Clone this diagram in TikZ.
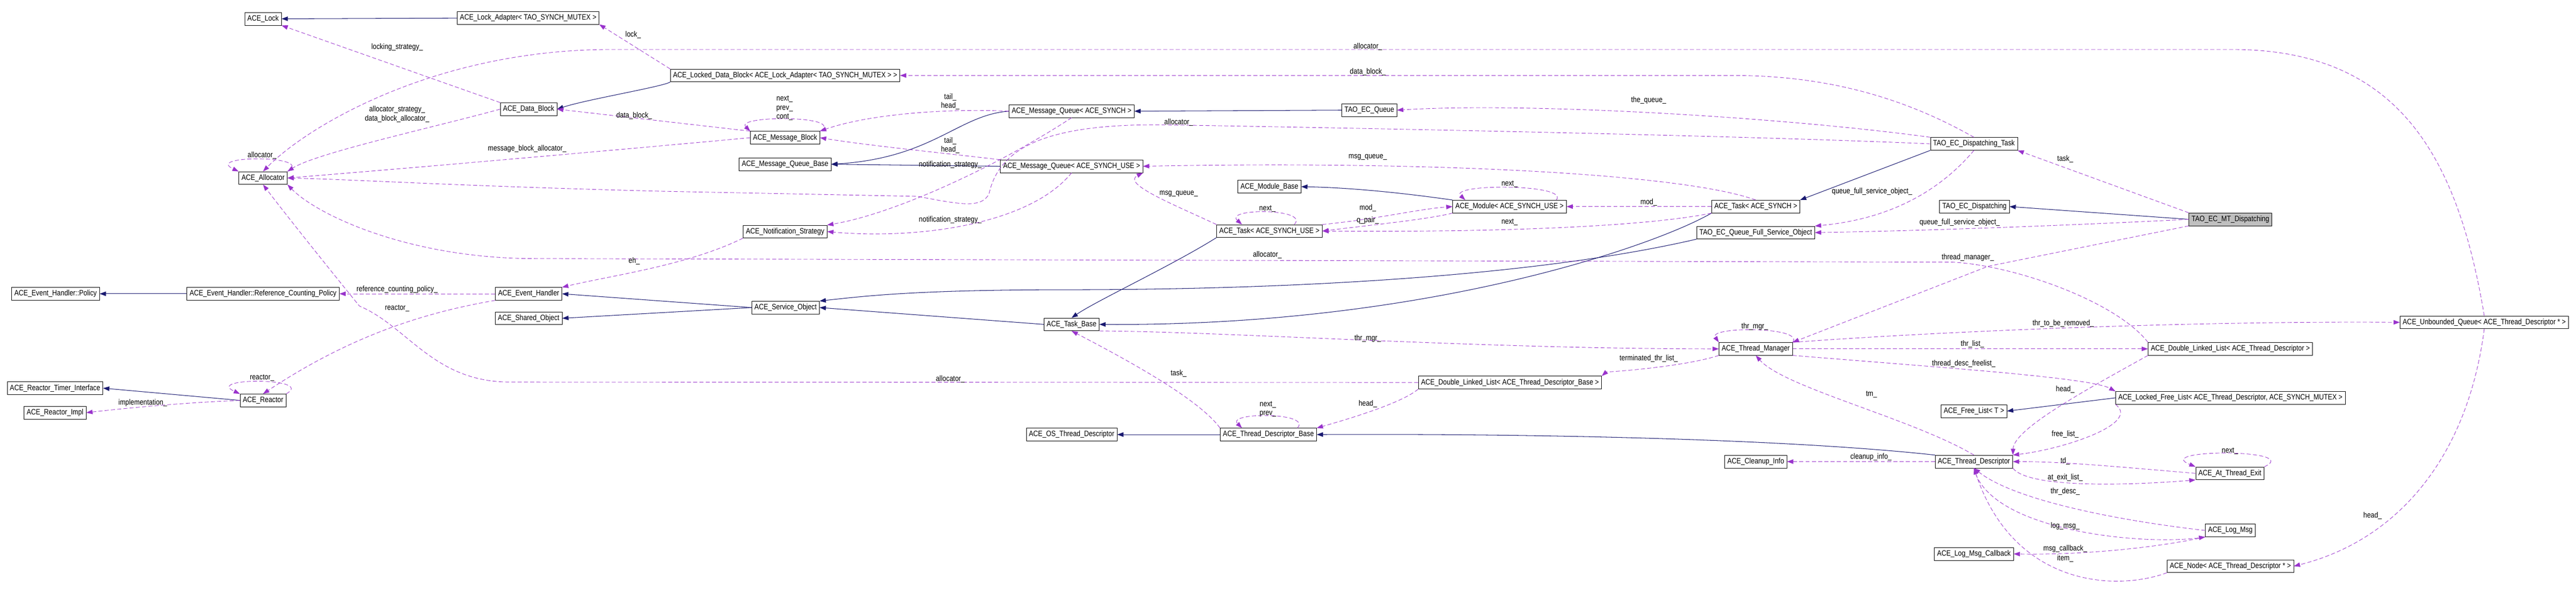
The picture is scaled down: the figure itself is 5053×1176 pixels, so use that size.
\documentclass[tikz,border=0pt]{standalone}
\usepackage{fontspec}
\usetikzlibrary{arrows.meta}
\newfontfamily\dxfont{Liberation Sans}[FakeStretch=0.85]
\newcommand{\dxsize}{\dxfont\fontsize{8.7pt}{10pt}\selectfont}
\definecolor{inhblue}{rgb}{0.1,0.1,0.44}
\definecolor{usepurple}{rgb}{0.6,0.2,0.8}

\begin{document}
\begin{tikzpicture}
  [x=0.02cm,y=-0.02cm,
   cls/.style={draw,rectangle,fill=white,minimum height=0.5cm,inner xsep=3pt,inner ysep=0pt,font=\dxsize},
   lbl/.style={inner sep=1pt,font=\dxsize,align=center},
   inh/.style={draw=inhblue,line width=0.6pt,-{Triangle[length=7pt,width=5pt]}},
   use/.style={draw=usepurple,line width=0.5pt,dash pattern=on 4.5pt off 2.5pt,-{Triangle[length=7pt,width=5pt]}}]

  \useasboundingbox (0,0) rectangle (5053,1176);

  \node[cls] (lock) at (516,37) {ACE\_Lock};
  \node[cls] (lockad) at (1036,35) {ACE\_Lock\_Adapter< TAO\_SYNCH\_MUTEX >};
  \node[cls] (datablk) at (1037,214) {ACE\_Data\_Block};
  \node[cls] (alloc) at (516,349) {ACE\_Allocator};
  \node[cls] (policy) at (109,576) {ACE\_Event\_Handler::Policy};
  \node[cls] (refpol) at (516,576) {ACE\_Event\_Handler::Reference\_Counting\_Policy};
  \node[cls] (evh) at (1037,576) {ACE\_Event\_Handler};
  \node[cls] (sharedobj) at (1037,624) {ACE\_Shared\_Object};
  \node[cls] (reactor) at (516,785) {ACE\_Reactor};
  \node[cls] (timerif) at (108,761) {ACE\_Reactor\_Timer\_Interface};
  \node[cls] (reactimpl) at (108,809) {ACE\_Reactor\_Impl};
  \node[cls] (lockeddb) at (1540,148) {ACE\_Locked\_Data\_Block< ACE\_Lock\_Adapter< TAO\_SYNCH\_MUTEX > >};
  \node[cls] (msgblk) at (1540,270) {ACE\_Message\_Block};
  \node[cls] (mqbase) at (1540,322) {ACE\_Message\_Queue\_Base};
  \node[cls] (notif) at (1540,454) {ACE\_Notification\_Strategy};
  \node[cls] (svcobj) at (1541,603) {ACE\_Service\_Object};
  \node[cls] (mqsynch) at (2102,218) {ACE\_Message\_Queue< ACE\_SYNCH >};
  \node[cls] (mquse) at (2102,326) {ACE\_Message\_Queue< ACE\_SYNCH\_USE >};
  \node[cls] (taskbase) at (2102,636) {ACE\_Task\_Base};
  \node[cls] (osthr) at (2102,852) {ACE\_OS\_Thread\_Descriptor};
  \node[cls] (modbase) at (2490,366) {ACE\_Module\_Base};
  \node[cls] (taskuse) at (2490,453) {ACE\_Task< ACE\_SYNCH\_USE >};
  \node[cls] (tdb) at (2488,852) {ACE\_Thread\_Descriptor\_Base};
  \node[cls] (ecqueue) at (2686,216) {TAO\_EC\_Queue};
  \node[cls] (module) at (2961,405) {ACE\_Module< ACE\_SYNCH\_USE >};
  \node[cls] (dlltdb) at (2962,750) {ACE\_Double\_Linked\_List< ACE\_Thread\_Descriptor\_Base >};
  \node[cls] (tasksynch) at (3444,405) {ACE\_Task< ACE\_SYNCH >};
  \node[cls] (qfso) at (3444,456) {TAO\_EC\_Queue\_Full\_Service\_Object};
  \node[cls] (thrmgr) at (3444,684) {ACE\_Thread\_Manager};
  \node[cls] (cleanup) at (3444,905) {ACE\_Cleanup\_Info};
  \node[cls] (dtask) at (3872,282) {TAO\_EC\_Dispatching\_Task};
  \node[cls] (ecdisp) at (3873,405) {TAO\_EC\_Dispatching};
  \node[cls] (freelist) at (3872,806) {ACE\_Free\_List< T >};
  \node[cls] (thrdesc) at (3872,905) {ACE\_Thread\_Descriptor};
  \node[cls] (logcb) at (3872,1086) {ACE\_Log\_Msg\_Callback};
  \node[cls,fill=black!25] (mtdisp) at (4375,430) {TAO\_EC\_MT\_Dispatching};
  \node[cls] (dlltd) at (4375,684) {ACE\_Double\_Linked\_List< ACE\_Thread\_Descriptor >};
  \node[cls] (lockedfl) at (4375,780) {ACE\_Locked\_Free\_List< ACE\_Thread\_Descriptor, ACE\_SYNCH\_MUTEX >};
  \node[cls] (atexit) at (4374,928) {ACE\_At\_Thread\_Exit};
  \node[cls] (logmsg) at (4375,1040) {ACE\_Log\_Msg};
  \node[cls] (node) at (4375,1110) {ACE\_Node< ACE\_Thread\_Descriptor * >};
  \node[cls] (unbq) at (4873,632) {ACE\_Unbounded\_Queue< ACE\_Thread\_Descriptor * >};

  % base classes
  \draw[inh] (lockad) -- (lock);
  \draw[inh] (lockeddb.south west) .. controls (1300,170) and (1150,195) .. (datablk.east);
  \draw[inh] (refpol) -- (policy);
  \draw[inh] (svcobj.west) -- (evh.east);
  \draw[inh] (svcobj.west) -- (sharedobj.east);
  \draw[inh] (taskbase.west) -- (svcobj.east);
  \draw[inh] (qfso.south west) .. controls (3000,545) and (2500,568) .. (2100,568) .. controls (1800,568) and (1700,580) .. (svcobj.north east);
  \draw[inh] (taskuse.south west) .. controls (2300,520) and (2150,590) .. (taskbase.north);
  \draw[inh] (tasksynch.south west) .. controls (3250,480) and (2800,640) .. (taskbase.east);
  \draw[inh] (mqsynch.west) .. controls (1880,225) and (1830,310) .. (mqbase.east);
  \draw[inh] (mquse.west) -- (mqbase.east);
  \draw[inh] (ecqueue.west) -- (mqsynch.east);
  \draw[inh] (module.north west) .. controls (2750,378) and (2650,368) .. (modbase.east);
  \draw[inh] (dtask.south west) -- (tasksynch.north east);
  \draw[inh] (mtdisp.west) -- (ecdisp.east);
  \draw[inh] (thrdesc.north west) .. controls (3500,860) and (3000,850) .. (tdb.east);
  \draw[inh] (tdb) -- (osthr);
  \draw[inh] (lockedfl.west) -- (freelist.east);
  \draw[inh] (reactor.west) -- (timerif.east);

  % members
  \draw[use] (lockeddb.north west) -- (lockad.south east) node[lbl] at (1242,68) {lock\_};
  \draw[use] (datablk.north west) -- (lock.south east) node[lbl] at (779,93) {locking\_strategy\_};
  \draw[use] (datablk.west) .. controls (850,250) and (620,300) .. (alloc.north east)
    node[lbl] at (779,224) {allocator\_strategy\_\\data\_block\_allocator\_};
  \draw[use] (alloc.north east) .. controls (620,304) and (400,304) .. (alloc.north west) node[lbl] at (514,305) {allocator\_};
  \draw[use] (msgblk.west) .. controls (1200,295) and (800,330) .. (alloc.east) node[lbl] at (1034,292) {message\_block\_allocator\_};
  \draw[use] (msgblk.north west) -- (datablk.east) node[lbl] at (1244,227) {data\_block\_};
  \draw[use] (msgblk.north east) .. controls (1660,226) and (1440,226) .. (msgblk.north west)
    node[lbl] at (1539,212) {next\_\\prev\_\\cont\_};
  \draw[use] (mqsynch.west) .. controls (1850,212) and (1700,225) .. (msgblk.north east) node[lbl] at (1864,199) {tail\_\\head\_};
  \draw[use] (mquse.north west) .. controls (1850,300) and (1700,285) .. (msgblk.east) node[lbl] at (1864,285) {tail\_\\head\_};
  \draw[use] (mqsynch.south) .. controls (1950,330) and (1750,420) .. (notif.north east) node[lbl] at (1864,323) {notification\_strategy\_};
  \draw[use] (mquse.south) .. controls (2020,440) and (1800,470) .. (notif.east) node[lbl] at (1864,431) {notification\_strategy\_};
  \draw[use] (dtask.west) .. controls (3400,265) and (2600,250) .. (2300,245) .. controls (2050,240) and (1960,290) .. (1940,380)
    .. controls (1925,410) and (1880,400) .. (1800,385) -- (1300,375) .. controls (900,365) and (700,352) .. (alloc.east)
    node[lbl] at (2312,240) {allocator\_};
  \draw[use] (unbq.north) .. controls (4820,300) and (4700,97) .. (4378,97) -- (1200,97) .. controls (850,97) and (600,250) .. (alloc.north)
    node[lbl] at (2683,91) {allocator\_};
  \draw[use] (dlltd.north west) .. controls (4150,590) and (3950,520) .. (3830,514) -- (1050,507) .. controls (800,507) and (620,420) .. (alloc.south east)
    node[lbl] at (2486,500) {allocator\_};
  \draw[use] (dlltdb.west) -- (1000,749) .. controls (850,749) and (800,640) .. (705,600) .. controls (640,520) and (560,420) .. (alloc.south)
    node[lbl] at (1864,743) {allocator\_};
  \draw[use] (notif.south west) .. controls (1350,520) and (1200,540) .. (evh.north east) node[lbl] at (1244,512) {eh\_};
  \draw[use] (evh.west) -- (refpol.east) node[lbl] at (779,568) {reference\_counting\_policy\_};
  \draw[use] (evh.south west) .. controls (850,610) and (700,650) .. (reactor.north) node[lbl] at (779,604) {reactor\_};
  \draw[use] (reactor.north east) .. controls (620,740) and (400,740) .. (reactor.north west) node[lbl] at (514,741) {reactor\_};
  \draw[use] (reactor.west) .. controls (350,790) and (250,800) .. (reactimpl.east) node[lbl] at (280,790) {implementation\_};
  \draw[use] (tasksynch.west) -- (module.east) node[lbl] at (3234,397) {mod\_};
  \draw[use] (taskuse.north east) .. controls (2700,430) and (2780,410) .. (module.west) node[lbl] at (2683,408) {mod\_};
  \draw[use] (module.south west) .. controls (2800,430) and (2700,440) .. (taskuse.east) node[lbl] at (2683,432) {q\_pair\_};
  \draw[use] (tasksynch.south west) .. controls (3250,440) and (3000,456) .. (taskuse.east) node[lbl] at (2961,436) {next\_};
  \draw[use] ([xshift=-0.4cm]module.north east) .. controls (3080,360) and (2840,360) .. ([xshift=0.5cm]module.north west)
    node[lbl] at (2961,361) {next\_};
  \draw[use] ([xshift=-1.1cm]taskuse.north east) .. controls (2570,408) and (2400,408) .. ([xshift=1cm]taskuse.north west)
    node[lbl] at (2486,409) {next\_};
  \draw[use] (taskuse.north west) .. controls (2300,400) and (2200,360) .. (mquse.south east) node[lbl] at (2312,380) {msg\_queue\_};
  \draw[use] (tasksynch.north) .. controls (3300,340) and (2800,315) .. (mquse.east) node[lbl] at (2683,308) {msg\_queue\_};
  \draw[use] (dtask.north west) .. controls (3500,230) and (3000,200) .. (ecqueue.east) node[lbl] at (3234,197) {the\_queue\_};
  \draw[use] (dtask.north) .. controls (3750,200) and (3600,148) .. (3400,148) -- (lockeddb.east) node[lbl] at (2683,141) {data\_block\_};
  \draw[use] (dtask.south) .. controls (3800,380) and (3700,430) .. (qfso.north east) node[lbl] at (3672,376) {queue\_full\_service\_object\_};
  \draw[use] (mtdisp.west) .. controls (4100,440) and (3800,452) .. (qfso.east) node[lbl] at (3844,436) {queue\_full\_service\_object\_};
  \draw[use] (mtdisp.north west) -- (dtask.south east) node[lbl] at (4051,312) {task\_};
  \draw[use] (mtdisp.south west) -- (3900,522) -- (thrmgr.north east) node[lbl] at (3860,505) {thread\_manager\_};
  \draw[use] (taskbase.south east) .. controls (2400,650) and (2900,684) .. (thrmgr.west) node[lbl] at (2683,664) {thr\_mgr\_};
  \draw[use] (thrmgr.north east) .. controls (3540,640) and (3350,640) .. (thrmgr.north west) node[lbl] at (3442,640) {thr\_mgr\_};
  \draw[use] (thrmgr.north east) .. controls (3800,650) and (4300,629) .. (unbq.west) node[lbl] at (4047,634) {thr\_to\_be\_removed\_};
  \draw[use] (thrmgr.east) -- (dlltd.west) node[lbl] at (3869,675) {thr\_list\_};
  \draw[use] (thrmgr.south east) .. controls (3800,720) and (4100,740) .. (lockedfl.north west) node[lbl] at (3852,713) {thread\_desc\_freelist\_};
  \draw[use] (thrmgr.south west) .. controls (3300,720) and (3150,730) .. (dlltdb.north east) node[lbl] at (3234,703) {terminated\_thr\_list\_};
  \draw[use] (thrdesc.north) .. controls (3750,820) and (3500,760) .. (thrmgr.south) node[lbl] at (3671,773) {tm\_};
  \draw[use] (dlltdb.south west) .. controls (2750,790) and (2650,820) .. (tdb.north east) node[lbl] at (2683,792) {head\_};
  \draw[use] (tdb.north west) .. controls (2350,780) and (2200,700) .. (taskbase.south) node[lbl] at (2312,732) {task\_};
  \draw[use] ([xshift=-0.76cm]tdb.north east) .. controls (2575,808) and (2405,808) .. ([xshift=0.86cm]tdb.north west)
    node[lbl] at (2487,802) {next\_\\prev\_};
  \draw[use] (dlltd.south west) .. controls (4100,760) and (3950,840) .. (thrdesc.north east) node[lbl] at (4051,764) {head\_};
  \draw[use] (lockedfl.south west) .. controls (4200,830) and (4050,880) .. (thrdesc.north east) node[lbl] at (4051,851) {free\_list\_};
  \draw[use] (atexit.west) .. controls (4150,915) and (4050,905) .. (thrdesc.east) node[lbl] at (4051,904) {td\_};
  \draw[use] (thrdesc.south east) .. controls (3980,960) and (4200,950) .. (atexit.south west) node[lbl] at (4051,936) {at\_exit\_list\_};
  \draw[use] (atexit.north east) .. controls (4520,880) and (4220,880) .. (atexit.north west) node[lbl] at (4374,884) {next\_};
  \draw[use] (logmsg.west) .. controls (4150,1020) and (3950,980) .. (thrdesc.south) node[lbl] at (4051,964) {thr\_desc\_};
  \draw[use] (thrdesc.south) .. controls (3900,1040) and (4200,1070) .. (logmsg.south west) node[lbl] at (4051,1031) {log\_msg\_};
  \draw[use] (logmsg.south west) .. controls (4200,1080) and (4050,1088) .. (logcb.east) node[lbl] at (4051,1076) {msg\_callback\_};
  \draw[use] (node.south west) .. controls (4150,1160) and (3950,1150) .. (thrdesc.south) node[lbl] at (4051,1095) {item\_};
  \draw[use] (unbq.south) .. controls (4840,900) and (4700,1060) .. (node.east) node[lbl] at (4654,1011) {head\_};
  \draw[use] (thrdesc.west) -- (cleanup.east) node[lbl] at (3670,896) {cleanup\_info\_};
\end{tikzpicture}
\end{document}
